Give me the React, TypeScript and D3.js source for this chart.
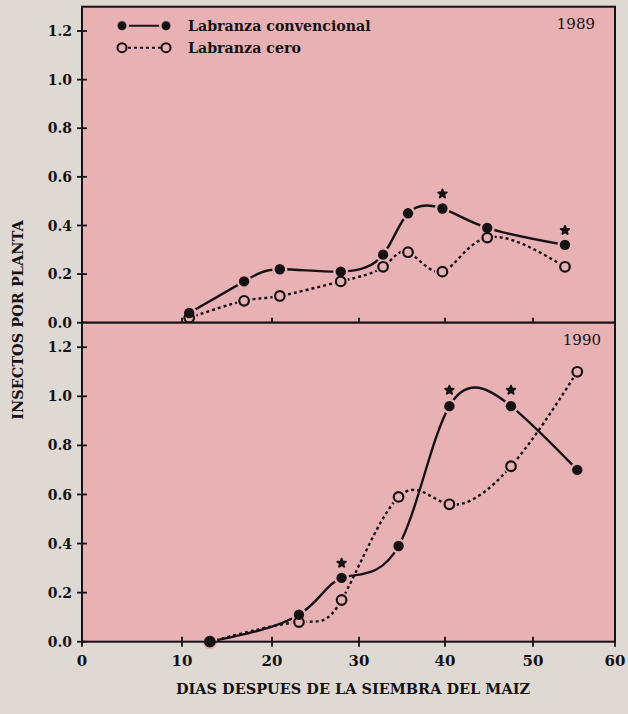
import React from "react";
import * as d3 from "d3";

// datos (dias despues de la siembra, insectos por planta)
const days1989 = [10.8, 16.9, 20.9, 27.9, 32.8, 35.7, 39.7, 44.8, 53.9];
const conv1989 = [0.04, 0.17, 0.22, 0.21, 0.28, 0.45, 0.47, 0.39, 0.32];
const cero1989 = [0.02, 0.09, 0.11, 0.17, 0.23, 0.29, 0.21, 0.35, 0.23];
const sigDays1989 = [39.7, 53.9];
const sigVals1989 = [0.53, 0.38];

const days1990 = [13.1, 23.1, 28.0, 34.6, 40.5, 47.5, 55.4];
const conv1990 = [0.0, 0.11, 0.26, 0.39, 0.96, 0.96, 0.7];
const cero1990 = [0.0, 0.08, 0.17, 0.59, 0.56, 0.715, 1.1];
const sigDays1990 = [28.0, 40.5, 47.5];
const sigVals1990 = [0.32, 1.025, 1.025];

const xTicks = [0, 10, 20, 30, 40, 50, 60];
const yTicks = [0, 0.2, 0.4, 0.6, 0.8, 1.0, 1.2];
const legendLabels = ["Labranza convencional", "Labranza cero"];

const W = 628;
const H = 714;
const PINK = "#e8b1b4";
const PAPER = "#dedad3";
const INK = "#161214";
const SERIF = "'DejaVu Serif', serif";

// the scanned axis is a bit uneven, so the scale follows the printed ticks
const x = d3.scaleLinear().domain(xTicks).range([82, 182, 272, 359, 445, 533, 615]);

type PanelProps = {
  top: number;
  bottom: number;
  days: number[];
  conv: number[];
  cero: number[];
  sigDays: number[];
  sigVals: number[];
  year: string;
  yearDx: number;
  xLabels?: boolean;
  legend?: boolean;
};

function Panel(props: PanelProps) {
  const { top, bottom, days, conv, cero, sigDays, sigVals, year, yearDx, xLabels, legend } = props;
  const y = d3.scaleLinear().domain([0, 1.3]).range([bottom, top]);
  const [x0, x1] = [x(0), x(60)];

  const line = d3
    .line<[number, number]>()
    .x((d) => x(d[0]))
    .y((d) => y(d[1]))
    .curve(d3.curveNatural);

  const convPts = days.map((d, i) => [d, conv[i]] as [number, number]);
  const ceroPts = days.map((d, i) => [d, cero[i]] as [number, number]);
  const star = d3.symbol(d3.symbolStar, 22)();

  return (
    <g>
      <rect x={x0} y={top} width={x1 - x0} height={bottom - top} fill={PINK} />

      <path d={line(convPts) || ""} fill="none" stroke={INK} strokeWidth={2.4} />
      <path d={line(ceroPts) || ""} fill="none" stroke={INK} strokeWidth={2.4} strokeDasharray="3 3" />

      {/* halos so the lines stop short of the markers */}
      {[...convPts, ...ceroPts].map((d, i) => (
        <circle key={`h-${i}`} cx={x(d[0])} cy={y(d[1])} r={7.5} fill={PINK} />
      ))}
      {ceroPts.map((d, i) => (
        <circle key={`c-${i}`} cx={x(d[0])} cy={y(d[1])} r={4.8} fill={PINK} stroke={INK} strokeWidth={2.2} />
      ))}
      {convPts.map((d, i) => (
        <circle key={`v-${i}`} cx={x(d[0])} cy={y(d[1])} r={5.2} fill={INK} />
      ))}
      {sigDays.map((d, i) => (
        <path
          key={`s-${i}`}
          d={star || ""}
          transform={`translate(${x(d)},${y(sigVals[i])})`}
          fill={INK}
          stroke={INK}
          strokeWidth={2}
          strokeLinejoin="round"
        />
      ))}

      {/* frame */}
      <rect x={x0} y={top} width={x1 - x0} height={bottom - top} fill="none" stroke={INK} strokeWidth={2} />

      {/* y axis */}
      {yTicks.map((t) => (
        <g key={`y-${t}`} transform={`translate(${x0},${y(t)})`}>
          <line x1={-5} x2={5} stroke={INK} strokeWidth={1.8} />
          <text x={-10} dy="0.36em" textAnchor="end" fontFamily={SERIF} fontWeight="bold" fontSize={14} fill={INK}>
            {t.toFixed(1)}
          </text>
        </g>
      ))}

      {/* x axis */}
      {xTicks.map((t) => (
        <g key={`x-${t}`} transform={`translate(${x(t)},${bottom})`}>
          <line y1={-5} y2={5} stroke={INK} strokeWidth={1.8} />
          {xLabels && (
            <text y={24} textAnchor="middle" fontFamily={SERIF} fontWeight="bold" fontSize={15} fill={INK}>
              {t}
            </text>
          )}
        </g>
      ))}

      <text x={x1 - yearDx} y={top + 22} textAnchor="end" fontFamily={SERIF} fontSize={15} fill={INK}>
        {year}
      </text>

      {legend && (
        <g fontFamily={SERIF} fontWeight="bold" fontSize={14.2} fill={INK}>
          <line x1={122} x2={166} y1={top + 19} y2={top + 19} stroke={INK} strokeWidth={2} />
          <circle cx={122} cy={top + 19} r={7} fill={PINK} />
          <circle cx={166} cy={top + 19} r={7} fill={PINK} />
          <circle cx={122} cy={top + 19} r={4.5} fill={INK} />
          <circle cx={166} cy={top + 19} r={4.5} fill={INK} />
          <text x={188} y={top + 24}>{legendLabels[0]}</text>

          <line x1={122} x2={166} y1={top + 41} y2={top + 41} stroke={INK} strokeWidth={2} strokeDasharray="3 3" />
          <circle cx={122} cy={top + 41} r={4.5} fill={PINK} stroke={INK} strokeWidth={2} />
          <circle cx={166} cy={top + 41} r={4.5} fill={PINK} stroke={INK} strokeWidth={2} />
          <text x={188} y={top + 46}>{legendLabels[1]}</text>
        </g>
      )}
    </g>
  );
}

export default function App() {
  return (
    <svg width={W} height={H} style={{ position: "absolute", left: 0, top: 0, background: PAPER }}>
      <rect width={W} height={H} fill={PAPER} />
      <Panel
        top={6.7}
        bottom={322.7}
        days={days1989}
        conv={conv1989}
        cero={cero1989}
        sigDays={sigDays1989}
        sigVals={sigVals1989}
        year="1989"
        yearDx={20}
        legend
      />
      <Panel
        top={322.7}
        bottom={641.7}
        days={days1990}
        conv={conv1990}
        cero={cero1990}
        sigDays={sigDays1990}
        sigVals={sigVals1990}
        year="1990"
        yearDx={14}
        xLabels
      />
      <text
        transform="translate(23,320) rotate(-90)"
        textAnchor="middle"
        fontFamily={SERIF}
        fontWeight="bold"
        fontSize={14.5}
        fill={INK}
      >
        INSECTOS POR PLANTA
      </text>
      <text x={353} y={694} textAnchor="middle" fontFamily={SERIF} fontWeight="bold" fontSize={14.5} fill={INK}>
        DIAS DESPUES DE LA SIEMBRA DEL MAIZ
      </text>
    </svg>
  );
}
